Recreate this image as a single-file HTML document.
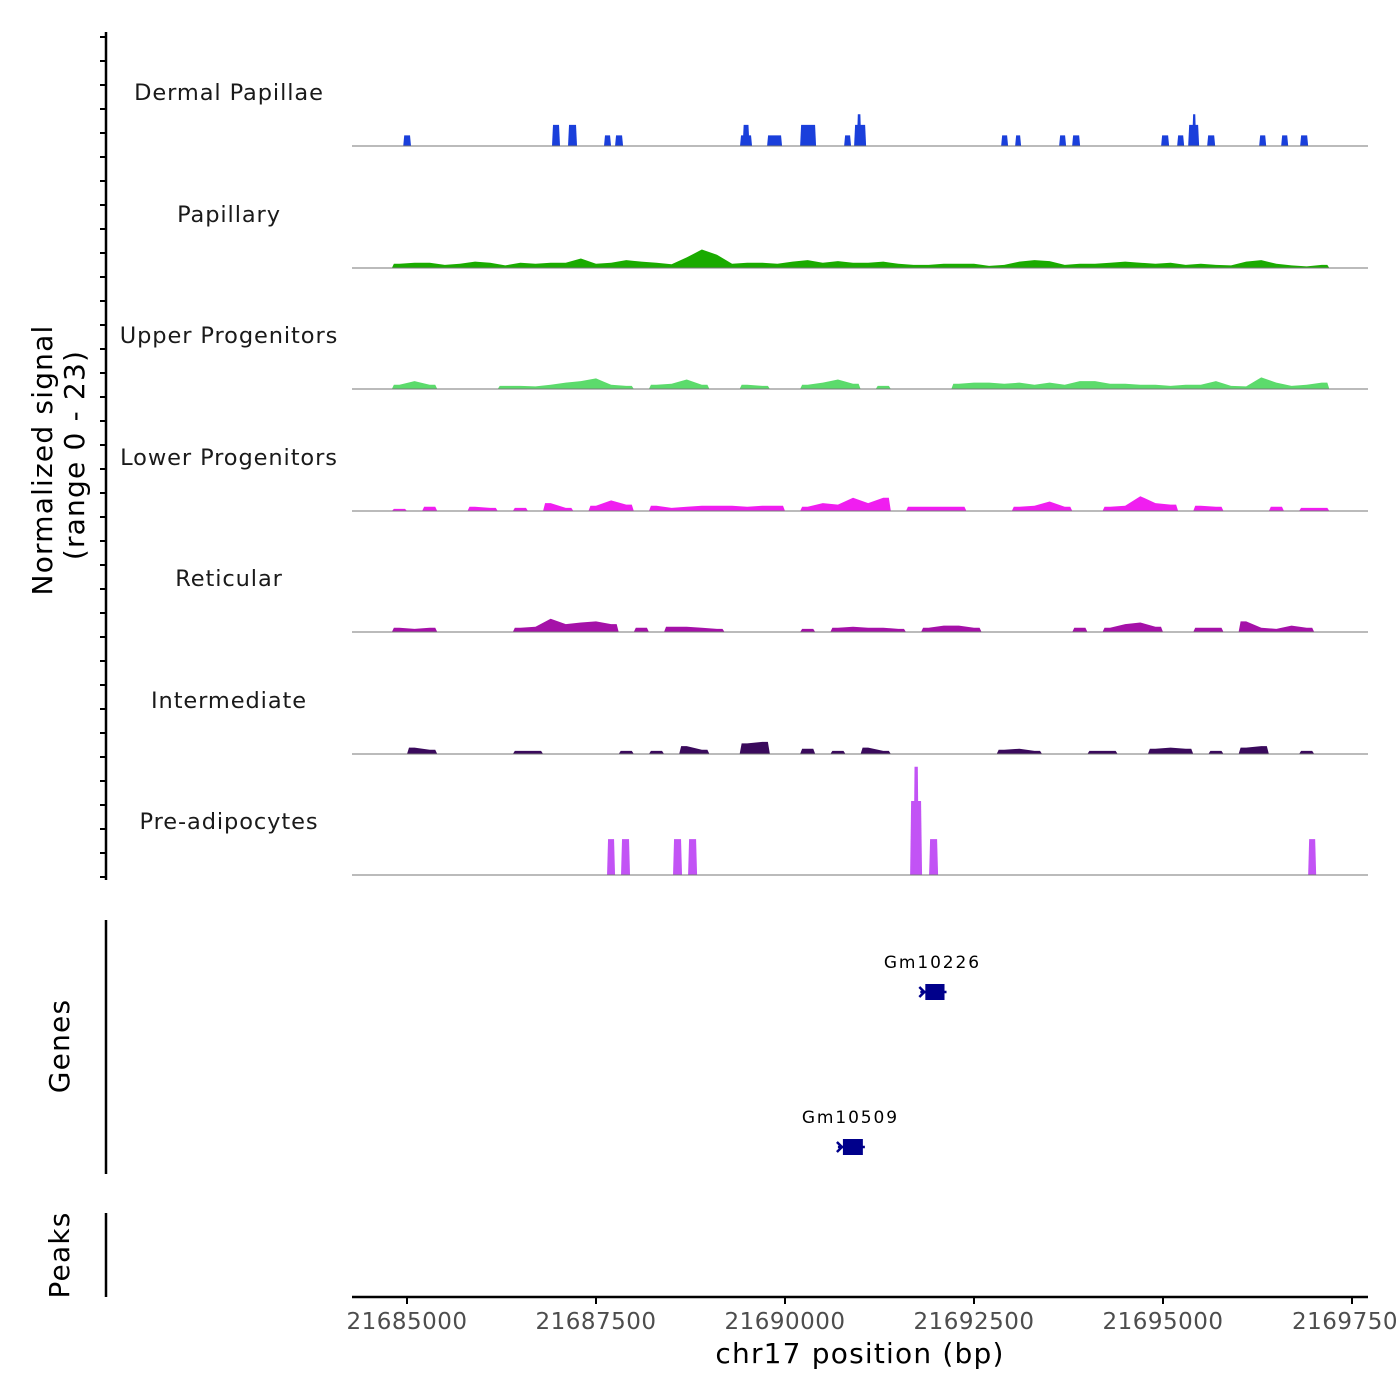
<!DOCTYPE html>
<html><head><meta charset="utf-8"><style>
html,body{margin:0;padding:0;background:#fff;}
svg{display:block;font-family:"DejaVu Sans","Liberation Sans",sans-serif;}
</style></head><body>
<svg id="chart" width="1400" height="1400" viewBox="0 0 1400 1400">
<g id="tracks"></g>
<g id="axes"></g>
<text x="860" y="1363" text-anchor="middle" font-size="28" letter-spacing="1.2" fill="#000">chr17 position (bp)</text>
<text transform="translate(52,460) rotate(-90)" text-anchor="middle" font-size="28" letter-spacing="1.2" fill="#000">Normalized signal</text>
<text transform="translate(84,455) rotate(-90)" text-anchor="middle" font-size="28" letter-spacing="1.2" fill="#000">(range 0 - 23)</text>
<text transform="translate(69,1046) rotate(-90)" text-anchor="middle" font-size="28" letter-spacing="1.2" fill="#000">Genes</text>
<text transform="translate(69,1255) rotate(-90)" text-anchor="middle" font-size="28" letter-spacing="1.2" fill="#000">Peaks</text>
</svg>
<script>
// Genomic axis
const xTickValues = [21685000, 21687500, 21690000, 21692500, 21695000, 21697500];
const xTickLabels = ["21685000", "21687500", "21690000", "21692500", "21695000", "2169750"];
const trackNames = ["Dermal Papillae","Papillary","Upper Progenitors","Lower Progenitors","Reticular","Intermediate","Pre-adipocytes"];
const trackColors = ["#1a3fdb","#1aab00","#5cdb6c","#f01ef0","#a511a8","#3a0a5c","#c253f5"];
// binned tracks: 200bp bins starting at binStart
const binStart = 21684600;
const binSize = 200;
const papillaryValues = [0,0.8,1,1,0.6,0.8,1.2,1,0.5,1,0.8,1,1,1.8,0.8,1,1.5,1.2,1,0.7,2,3.5,2.5,0.8,1,1,0.8,1.2,1.5,1,1.3,1,1,1.2,0.8,0.6,0.6,0.8,0.8,0.8,0.4,0.6,1.2,1.5,1.3,0.6,0.8,0.8,1,1.2,1,0.8,1,0.6,0.8,0.6,0.5,1.2,1.5,0.8,0.5,0.3,0.6,0];
const upperValues = [0,0.8,1.5,0.8,0,0,0,0,0.6,0.6,0.5,0.8,1.2,1.5,2,0.8,0.6,0,0.8,1,1.8,0.8,0,0,0.8,0.6,0,0,0.8,1.2,1.8,1,0,0.6,0,0,0,0,1,1.2,1.2,1,1.2,0.8,1.2,0.8,1.5,1.5,1,1,0.8,0.8,0.6,0.8,0.8,1.5,0.6,0.5,2.2,1.2,0.6,0.8,1.2,0];
const lowerValues = [0,0.4,0,0.8,0,0,0.8,0.6,0,0.6,0,1.5,0.6,0,1,2,1.2,0,1,0.6,0.8,1,1,1,0.8,1,1,0,0.8,1.5,1.2,2.5,1.5,2.5,0,0.8,0.8,0.8,0.8,0,0,0,0.8,1,1.8,0.8,0,0,0.8,1,2.8,1.5,1.2,0,1,0.8,0,0,0,0.8,0,0.6,0.6,0];
const reticularValues = [0,0.8,0.6,0.8,0,0,0,0,0,0.8,1,2.5,1.5,1.8,2,1.5,0,0.8,0,1,1,0.8,0.6,0,0,0,0,0,0.6,0,0.8,1,0.8,0.8,0.6,0,0.8,1.2,1.2,0.8,0,0,0,0,0,0,0.8,0,0.8,1.5,1.8,1,0,0,0.8,0.8,0,2,0.8,0.6,1.2,0.8,0,0];
const intermediateValues = [0,0,1.2,0.8,0,0,0,0,0,0.6,0.6,0,0,0,0,0,0.6,0,0.6,0,1.5,0.8,0,0,2,2.3,0,0,1,0,0.6,0,1.2,0.6,0,0,0,0,0,0,0,0.8,1,0.6,0,0,0,0.6,0.6,0,0,1,1.2,1,0,0.6,0,1.2,1.5,0,0,0.6,0,0];
// block tracks
const dermalStarts = [21684950,21686918,21687130,21687606,21687752,21689405,21689440,21689763,21690200,21690782,21690914,21690950,21692859,21693044,21693626,21693798,21694975,21695187,21695333,21695385,21695584,21696272,21696563,21696814];
const dermalEnds   = [21685053,21687024,21687249,21687699,21687858,21689564,21689530,21689961,21690411,21690874,21691073,21691010,21692951,21693123,21693718,21693904,21695081,21695280,21695478,21695440,21695690,21696365,21696656,21696920];
const dermalValues = [2,4,4,2,2,2,4,2,4,2,4,6,2,2,2,2,2,2,4,6,2,2,2,2];
const preadipStarts = [21687646,21687831,21688519,21688718,21691655,21691700,21691906,21696920];
const preadipEnds   = [21687752,21687950,21688638,21688837,21691813,21691770,21692025,21697026];
const preadipValues = [6.8,6.8,6.8,6.8,14,20.5,6.8,6.8];
// genes
const geneNames = ["Gm10226","Gm10509"];
const geneStarts = [21691790,21690700];
const geneEnds = [21692110,21691030];
const geneRows = [0,1];

const NS="http://www.w3.org/2000/svg";
const X0=407, XS=189/2500;
function xScale(bp){return X0+(bp-21685000)*XS;}
const baselines=[146,268,389,511,632,754,875];
const unitPx=121.5/23;
function yScale(track,v){return baselines[track]-v*unitPx;}
function mk(tag,attrs,parent){const e=document.createElementNS(NS,tag);for(const k in attrs)e.setAttribute(k,attrs[k]);parent.appendChild(e);return e;}
const tracksG=document.getElementById('tracks');
const axesG=document.getElementById('axes');

function binnedTrack(t,vals){
  let pts=[], segs=[];
  for(let i=0;i<vals.length;i++){
    const cx=xScale(binStart+binSize*(i+0.5));
    if(vals[i]>0){pts.push([cx,yScale(t,vals[i])]);}
    else if(pts.length){segs.push(pts);pts=[];}
  }
  if(pts.length)segs.push(pts);
  segs.forEach(s=>{
    const w=binSize*XS/2;
    let d=`M${s[0][0]-w},${baselines[t]} L${s[0][0]-w+2},${s[0][1]}`;
    s.forEach(p=>{d+=` L${p[0]},${p[1]}`;});
    const l=s[s.length-1];
    d+=` L${l[0]+w-2},${l[1]} L${l[0]+w},${baselines[t]} Z`;
    const p=mk('path',{d:d,fill:trackColors[t]},tracksG);
    
    
  });
}
function blockTrack(t,st,en,vals){
  for(let i=0;i<st.length;i++){
    const a=xScale(st[i]),b=xScale(en[i]),y=yScale(t,vals[i]),yb=baselines[t];
    const p=mk('polygon',{points:`${a},${yb} ${a+1},${y} ${b-1},${y} ${b},${yb}`,fill:trackColors[t]},tracksG);
    
    
  }
}
blockTrack(0,dermalStarts,dermalEnds,dermalValues);
binnedTrack(1,papillaryValues);
binnedTrack(2,upperValues);
binnedTrack(3,lowerValues);
binnedTrack(4,reticularValues);
binnedTrack(5,intermediateValues);
blockTrack(6,preadipStarts,preadipEnds,preadipValues);

const labelY=[92,214,335,457,578,700,821];
trackNames.forEach((n,t)=>{
  const bl=mk('line',{x1:352,x2:1368,y1:baselines[t],y2:baselines[t],stroke:'#777','stroke-width':1},tracksG);
  
  
  const tx=mk('text',{x:229,y:labelY[t]+8,'text-anchor':'middle','font-size':22.5,'letter-spacing':'0.9',fill:'#1a1a1a'},tracksG);
  tx.textContent=n;
  
  
});

// y axis
mk('line',{x1:106,x2:106,y1:32,y2:880,stroke:'#000','stroke-width':2.5,},axesG);
for(let i=0;i<36;i++){
  const y=877-i*24;
  const tk=mk('line',{x1:100,x2:106,y1:y,y2:y,stroke:'#000','stroke-width':2},axesG);
  
  
}
mk('line',{x1:106,x2:106,y1:920,y2:1174,stroke:'#000','stroke-width':2.5,},axesG);
mk('line',{x1:106,x2:106,y1:1213,y2:1297,stroke:'#000','stroke-width':2.5,},axesG);

// genes
const geneRowY=[992,1147];
geneNames.forEach((g,i)=>{
  const a=xScale(geneStarts[i]),b=xScale(geneEnds[i]),y=geneRowY[geneRows[i]];
  const grp=mk('g',{},axesG);
  
  
  mk('rect',{x:a+5,y:y-8,width:b-a-5,height:16,fill:'#00008b'},grp);
  mk('line',{x1:a,x2:b+2,y1:y,y2:y,stroke:'#00008b','stroke-width':2.5},grp);
  mk('polyline',{points:`${a-1},${y-5} ${a+4},${y} ${a-1},${y+5}`,fill:'none',stroke:'#00008b','stroke-width':2.5},grp);
  const t=mk('text',{x:(a+b)/2,y:y-24,'text-anchor':'middle','font-size':17,fill:'#000','letter-spacing':'1.9'},grp);
  t.textContent=g;
});

// x axis
mk('line',{x1:352,x2:1368,y1:1297,y2:1297,stroke:'#000','stroke-width':2.5,},axesG);
xTickValues.forEach((v,i)=>{
  const x=xScale(v);
  const tk=mk('line',{x1:x,x2:x,y1:1297,y2:1304,stroke:'#000','stroke-width':2},axesG);
  
  
  const t=mk('text',{x:(i==5?1345:x),y:1329,'text-anchor':'middle','font-size':23,fill:'#4d4d4d','letter-spacing':'0.5'},axesG);
  t.textContent=xTickLabels[i];
  
  
});
</script>
</body></html>
